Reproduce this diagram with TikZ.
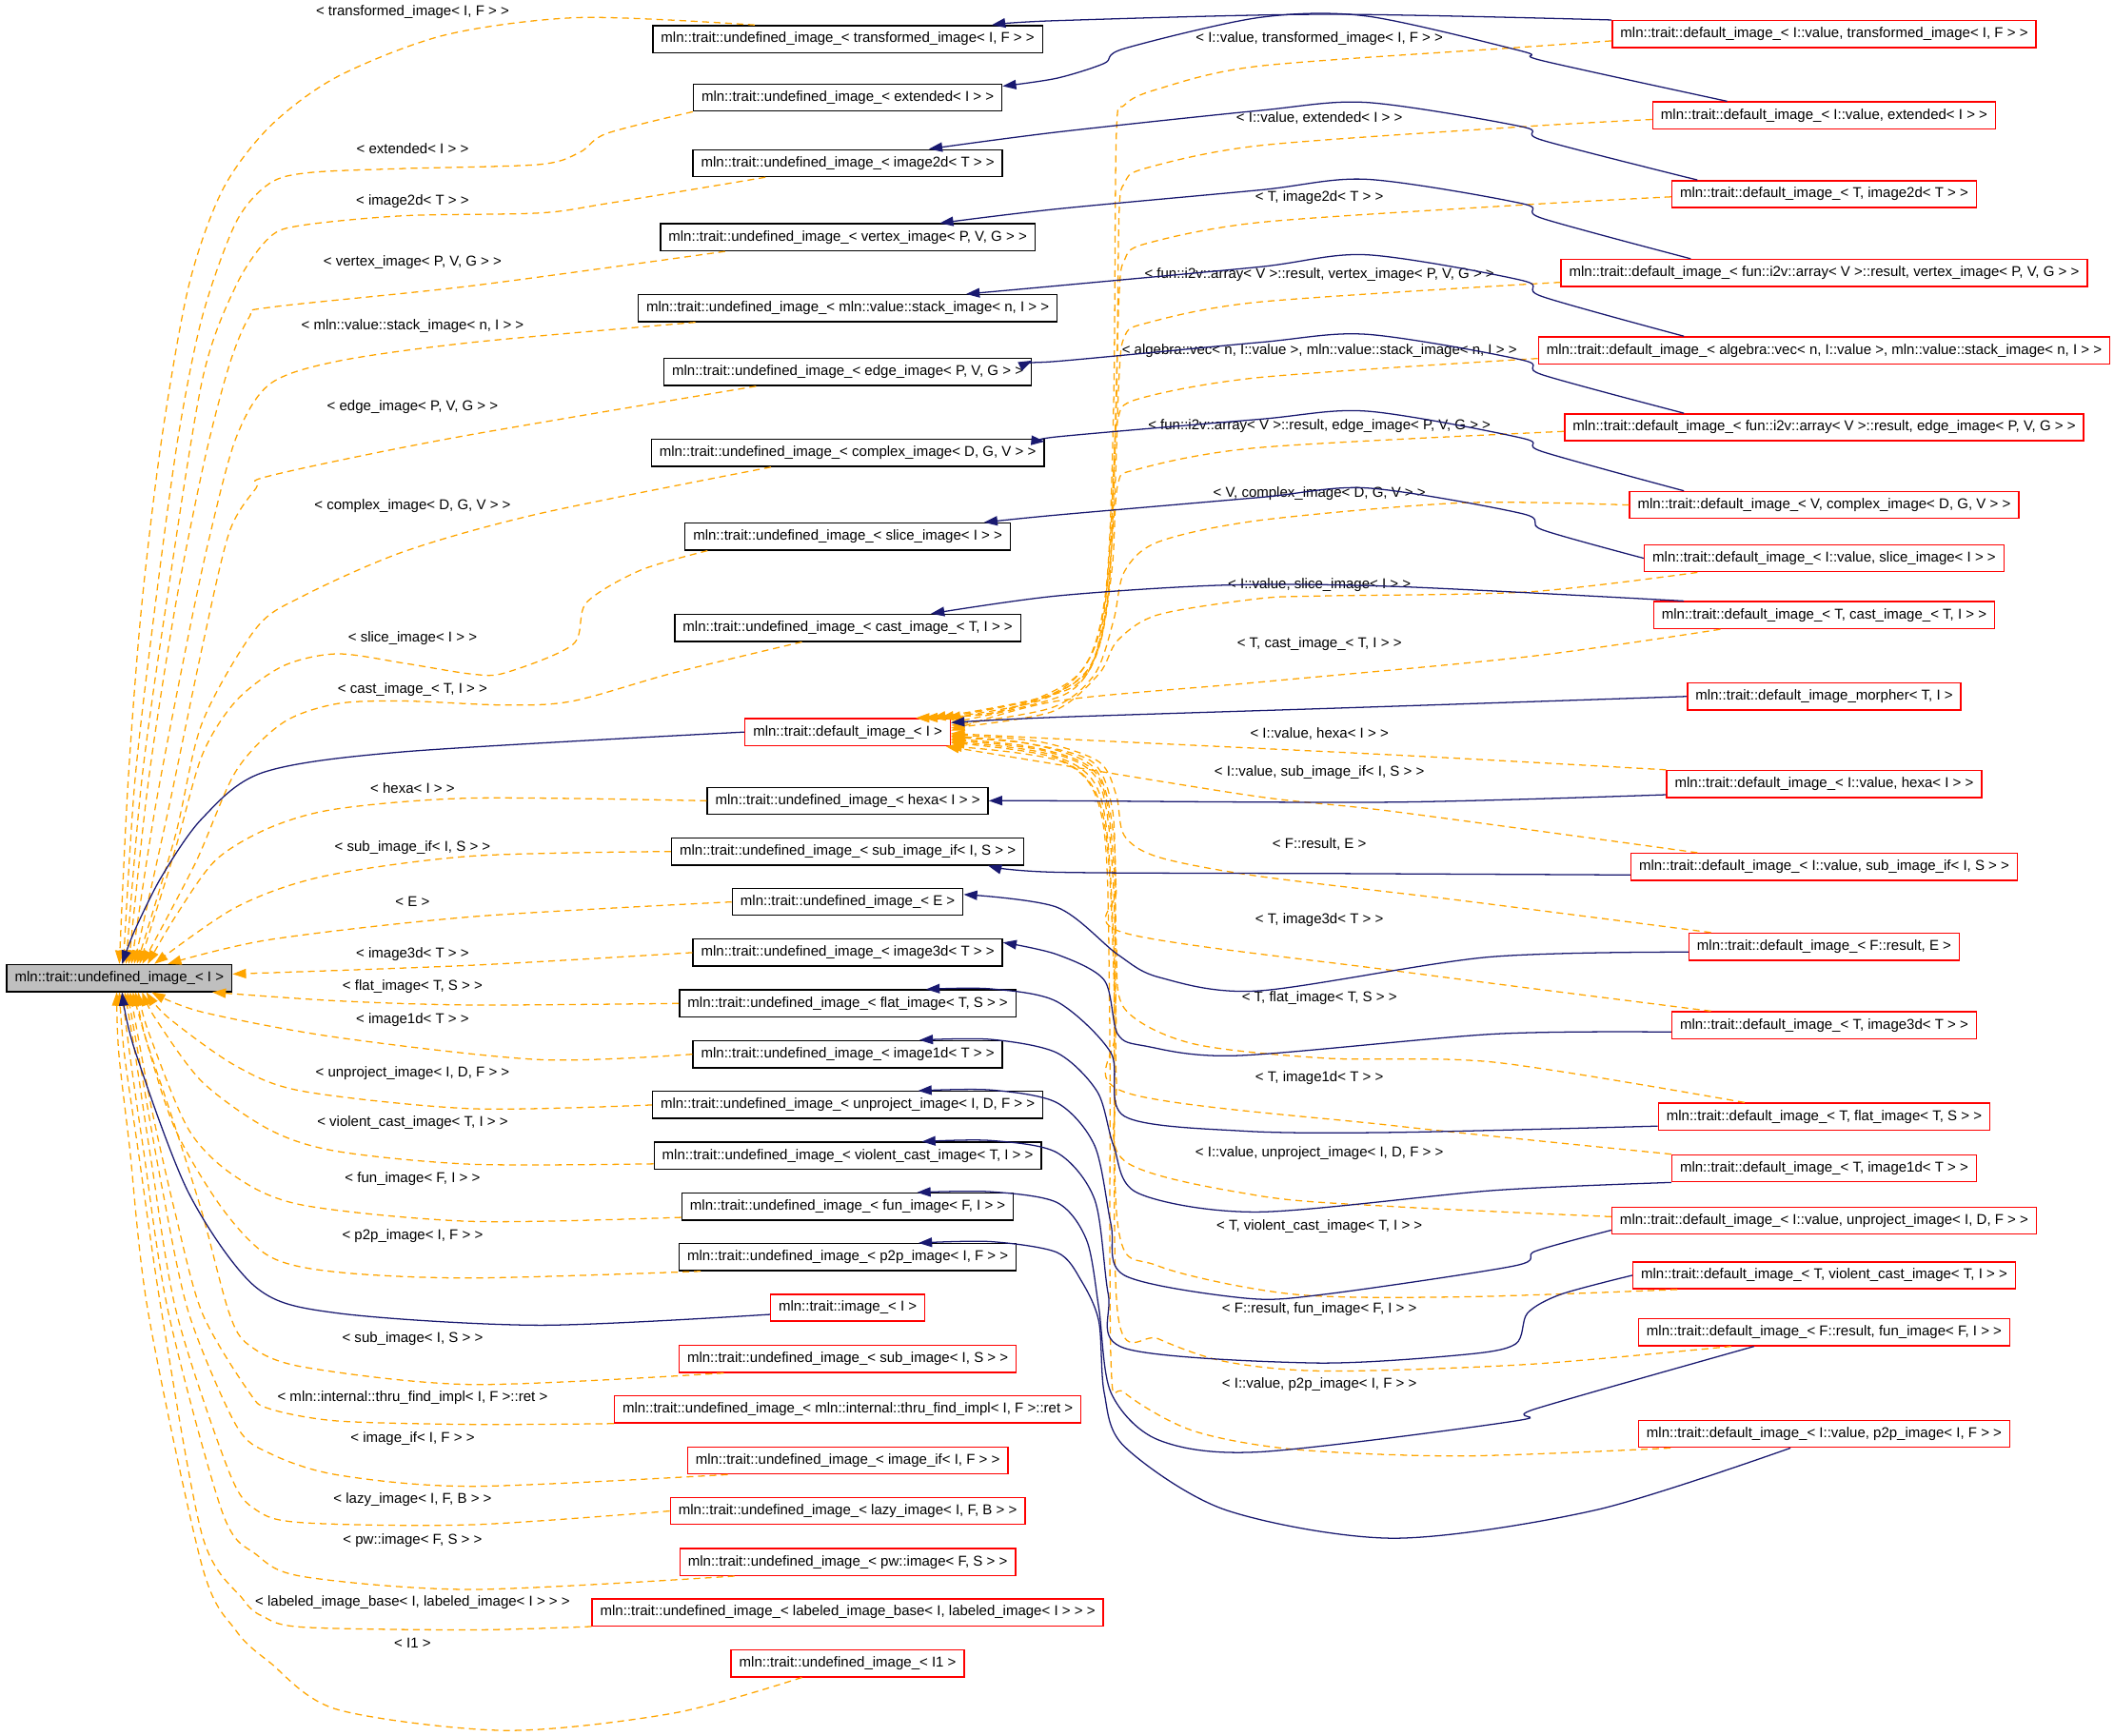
\documentclass[tikz,border=0pt]{standalone}
\usepackage{fontspec}
\setmainfont{Liberation Sans}
\usetikzlibrary{arrows.meta}

\definecolor{dxorange}{HTML}{FFA500}
\definecolor{dxnavy}{HTML}{191970}
\definecolor{dxgray}{HTML}{BFBFBF}

\tikzset{
  every node/.style={font=\fontsize{10.6pt}{12pt}\selectfont},
  blackcls/.style={draw=black,line width=1pt,fill=white,minimum height=20pt,inner xsep=6pt,inner ysep=0pt},
  redcls/.style={blackcls,draw=red},
  focusbox/.style={blackcls,fill=dxgray},
  lbl/.style={inner sep=1pt},
  inst/.style={draw=dxorange,line width=0.9pt,dash pattern=on 5pt off 3.5pt,-{Triangle[length=10pt,width=7pt]}},
  inher/.style={draw=dxnavy,line width=0.9pt,-{Triangle[length=10pt,width=7pt]}},
}

\begin{document}
\begin{tikzpicture}[x=1pt,y=-1pt]
  \useasboundingbox (0,0) rectangle (1568,1287.7);

  % the class itself
  \node[focusbox] (base) at (88.5,725.5) {mln::trait::undefined\_image\_< I >};

  % middle column
  \node[blackcls] (utrans)   at (628.75,29)    {mln::trait::undefined\_image\_< transformed\_image< I, F > >};
  \node[blackcls] (uext)     at (628.75,72.4)  {mln::trait::undefined\_image\_< extended< I > >};
  \node[blackcls] (u2d)      at (628.75,121)   {mln::trait::undefined\_image\_< image2d< T > >};
  \node[blackcls] (uvertex)  at (628.75,176)   {mln::trait::undefined\_image\_< vertex\_image< P, V, G > >};
  \node[blackcls] (ustack)   at (628.75,228.6) {mln::trait::undefined\_image\_< mln::value::stack\_image< n, I > >};
  \node[blackcls] (uedge)    at (628.75,276)   {mln::trait::undefined\_image\_< edge\_image< P, V, G > >};
  \node[blackcls] (ucomplex) at (628.75,336)   {mln::trait::undefined\_image\_< complex\_image< D, G, V > >};
  \node[blackcls] (uslice)   at (628.75,398)   {mln::trait::undefined\_image\_< slice\_image< I > >};
  \node[blackcls] (ucast)    at (628.75,465.7) {mln::trait::undefined\_image\_< cast\_image\_< T, I > >};
  \node[redcls]   (dimg)     at (628.75,543)   {mln::trait::default\_image\_< I >};
  \node[blackcls] (uhexa)    at (628.75,594)   {mln::trait::undefined\_image\_< hexa< I > >};
  \node[blackcls] (usubif)   at (628.75,631.6) {mln::trait::undefined\_image\_< sub\_image\_if< I, S > >};
  \node[blackcls] (uE)       at (628.75,669)   {mln::trait::undefined\_image\_< E >};
  \node[blackcls] (u3d)      at (628.75,706.6) {mln::trait::undefined\_image\_< image3d< T > >};
  \node[blackcls] (uflat)    at (628.75,744.3) {mln::trait::undefined\_image\_< flat\_image< T, S > >};
  \node[blackcls] (u1d)      at (628.75,782)   {mln::trait::undefined\_image\_< image1d< T > >};
  \node[blackcls] (uunproj)  at (628.75,819.6) {mln::trait::undefined\_image\_< unproject\_image< I, D, F > >};
  \node[blackcls] (uviolent) at (628.75,857.3) {mln::trait::undefined\_image\_< violent\_cast\_image< T, I > >};
  \node[blackcls] (ufun)     at (628.75,895)   {mln::trait::undefined\_image\_< fun\_image< F, I > >};
  \node[blackcls] (up2p)     at (628.75,932.5) {mln::trait::undefined\_image\_< p2p\_image< I, F > >};
  \node[redcls]   (imgI)     at (628.75,970)   {mln::trait::image\_< I >};
  \node[redcls]   (usub)     at (628.75,1008)  {mln::trait::undefined\_image\_< sub\_image< I, S > >};
  \node[redcls]   (uthru)    at (628.75,1045.5){mln::trait::undefined\_image\_< mln::internal::thru\_find\_impl< I, F >::ret >};
  \node[redcls]   (uimgif)   at (628.75,1083.3){mln::trait::undefined\_image\_< image\_if< I, F > >};
  \node[redcls]   (ulazy)    at (628.75,1120.8){mln::trait::undefined\_image\_< lazy\_image< I, F, B > >};
  \node[redcls]   (upw)      at (628.75,1158.6){mln::trait::undefined\_image\_< pw::image< F, S > >};
  \node[redcls]   (ulabeled) at (628.75,1196)  {mln::trait::undefined\_image\_< labeled\_image\_base< I, labeled\_image< I > > >};
  \node[redcls]   (uI1)      at (628.75,1233.8){mln::trait::undefined\_image\_< I1 >};

  % right column
  \node[redcls] (dtrans)   at (1353,25.3)   {mln::trait::default\_image\_< I::value, transformed\_image< I, F > >};
  \node[redcls] (dext)     at (1353,85.6)   {mln::trait::default\_image\_< I::value, extended< I > >};
  \node[redcls] (d2d)      at (1353,144)    {mln::trait::default\_image\_< T, image2d< T > >};
  \node[redcls] (dvertex)  at (1353,202.4)  {mln::trait::default\_image\_< fun::i2v::array< V >::result, vertex\_image< P, V, G > >};
  \node[redcls] (dstack)   at (1353,259.9)  {mln::trait::default\_image\_< algebra::vec< n, I::value >, mln::value::stack\_image< n, I > >};
  \node[redcls] (dedge)    at (1353,317)    {mln::trait::default\_image\_< fun::i2v::array< V >::result, edge\_image< P, V, G > >};
  \node[redcls] (dcomplex) at (1353,374.6)  {mln::trait::default\_image\_< V, complex\_image< D, G, V > >};
  \node[redcls] (dslice)   at (1353,414.1)  {mln::trait::default\_image\_< I::value, slice\_image< I > >};
  \node[redcls] (dcast)    at (1353,456.3)  {mln::trait::default\_image\_< T, cast\_image\_< T, I > >};
  \node[redcls] (dmorph)   at (1353,516.6)  {mln::trait::default\_image\_morpher< T, I >};
  \node[redcls] (dhexa)    at (1353,581.5)  {mln::trait::default\_image\_< I::value, hexa< I > >};
  \node[redcls] (dsubif)   at (1353,643)    {mln::trait::default\_image\_< I::value, sub\_image\_if< I, S > >};
  \node[redcls] (dE)       at (1353,702.2)  {mln::trait::default\_image\_< F::result, E >};
  \node[redcls] (d3d)      at (1353,760.5)  {mln::trait::default\_image\_< T, image3d< T > >};
  \node[redcls] (dflat)    at (1353,828.3)  {mln::trait::default\_image\_< T, flat\_image< T, S > >};
  \node[redcls] (d1d)      at (1353,866.6)  {mln::trait::default\_image\_< T, image1d< T > >};
  \node[redcls] (dunproj)  at (1353,905.5)  {mln::trait::default\_image\_< I::value, unproject\_image< I, D, F > >};
  \node[redcls] (dviolent) at (1353,946)    {mln::trait::default\_image\_< T, violent\_cast\_image< T, I > >};
  \node[redcls] (dfun)     at (1353,988.2)  {mln::trait::default\_image\_< F::result, fun\_image< F, I > >};
  \node[redcls] (dp2p)     at (1353,1063.6) {mln::trait::default\_image\_< I::value, p2p\_image< I, F > >};

  % labels of the instantiations of the class
  \node[lbl] (ltrans)   at (306,8.7)    {< transformed\_image< I, F > >};
  \node[lbl] (lext)     at (306,110)    {< extended< I > >};
  \node[lbl] (l2d)      at (306,149.4)  {< image2d< T > >};
  \node[lbl] (lvertex)  at (306,194.6)  {< vertex\_image< P, V, G > >};
  \node[lbl] (lstack)   at (306,241.9)  {< mln::value::stack\_image< n, I > >};
  \node[lbl] (ledge)    at (306,301.9)  {< edge\_image< P, V, G > >};
  \node[lbl] (lcomplex) at (306,375.3)  {< complex\_image< D, G, V > >};
  \node[lbl] (lslice)   at (306,473.4)  {< slice\_image< I > >};
  \node[lbl] (lcast)    at (306,511.8)  {< cast\_image\_< T, I > >};
  \node[lbl] (lhexa)    at (306,584.7)  {< hexa< I > >};
  \node[lbl] (lsubif)   at (306,628.7)  {< sub\_image\_if< I, S > >};
  \node[lbl] (lE)       at (306,668.8)  {< E >};
  \node[lbl] (l3d)      at (306,707.9)  {< image3d< T > >};
  \node[lbl] (lflat)    at (306,731.9)  {< flat\_image< T, S > >};
  \node[lbl] (l1d)      at (306,756.6)  {< image1d< T > >};
  \node[lbl] (lunproj)  at (306,796.1)  {< unproject\_image< I, D, F > >};
  \node[lbl] (lviolent) at (306,832.6)  {< violent\_cast\_image< T, I > >};
  \node[lbl] (lfun)     at (306,874.2)  {< fun\_image< F, I > >};
  \node[lbl] (lp2p)     at (306,917)    {< p2p\_image< I, F > >};
  \node[lbl] (lsub)     at (306,993)    {< sub\_image< I, S > >};
  \node[lbl] (lthru)    at (306,1036.8) {< mln::internal::thru\_find\_impl< I, F >::ret >};
  \node[lbl] (limgif)   at (306,1067.1) {< image\_if< I, F > >};
  \node[lbl] (llazy)    at (306,1112.3) {< lazy\_image< I, F, B > >};
  \node[lbl] (lpw)      at (306,1142.7) {< pw::image< F, S > >};
  \node[lbl] (llabeled) at (306,1188.6) {< labeled\_image\_base< I, labeled\_image< I > > >};
  \node[lbl] (lI1)      at (306,1218.9) {< I1 >};

  % labels of the instantiations of default_image_
  \node[lbl] (mtrans)   at (978.6,28.7)   {< I::value, transformed\_image< I, F > >};
  \node[lbl] (mext)     at (978.6,87.8)   {< I::value, extended< I > >};
  \node[lbl] (m2d)      at (978.6,146.4)  {< T, image2d< T > >};
  \node[lbl] (mvertex)  at (978.6,203.5)  {< fun::i2v::array< V >::result, vertex\_image< P, V, G > >};
  \node[lbl] (mstack)   at (978.6,260)    {< algebra::vec< n, I::value >, mln::value::stack\_image< n, I > >};
  \node[lbl] (medge)    at (978.6,315.8)  {< fun::i2v::array< V >::result, edge\_image< P, V, G > >};
  \node[lbl] (mcomplex) at (978.6,366)    {< V, complex\_image< D, G, V > >};
  \node[lbl] (mslice)   at (978.6,433.6)  {< I::value, slice\_image< I > >};
  \node[lbl] (mcast)    at (978.6,477.6)  {< T, cast\_image\_< T, I > >};
  \node[lbl] (mhexa)    at (978.6,544)    {< I::value, hexa< I > >};
  \node[lbl] (msubif)   at (978.6,573)    {< I::value, sub\_image\_if< I, S > >};
  \node[lbl] (mE)       at (978.6,625.9)  {< F::result, E >};
  \node[lbl] (m3d)      at (978.6,682.4)  {< T, image3d< T > >};
  \node[lbl] (mflat)    at (978.6,740.1)  {< T, flat\_image< T, S > >};
  \node[lbl] (m1d)      at (978.6,799.6)  {< T, image1d< T > >};
  \node[lbl] (munproj)  at (978.6,855.4)  {< I::value, unproject\_image< I, D, F > >};
  \node[lbl] (mviolent) at (978.6,909.7)  {< T, violent\_cast\_image< T, I > >};
  \node[lbl] (mfun)     at (978.6,971.4)  {< F::result, fun\_image< F, I > >};
  \node[lbl] (mp2p)     at (978.6,1026.9) {< I::value, p2p\_image< I, F > >};

  % instantiations -> undefined_image_< I >
  \draw[inst] plot[smooth] coordinates {([xshift=-69pt]utrans.north) (430,13) (330,26) (250,57) (200,94) (165,141) (140,212) (120,325) (105,450) (95,580) ([xshift=84pt]base.north west)};
  \draw[inst] plot[smooth] coordinates {(uext.south west) (450,99) (430,113) (400,122) (300,125) (230,128) (200,136) (175,165) (150,235) (132,325) (115,450) (100,580) ([xshift=87pt]base.north west)};
  \draw[inst] plot[smooth] coordinates {([xshift=-61pt]u2d.south) (450,151) (400,158) (300,160) (225,167) (200,176) (175,212) (150,282) (123,450) (105,580) ([xshift=89pt]base.north west)};
  \draw[inst] plot[smooth] coordinates {([xshift=-91pt]uvertex.south) (350,212) (200,228) (185,235) (170,271) (152,340) (130,450) (110,580) ([xshift=91pt]base.north west)};
  \draw[inst] plot[smooth] coordinates {([xshift=-113pt]ustack.south) (350,254) (250,268) (200,285) (175,325) (155,400) (138,480) (115,600) ([xshift=93pt]base.north west)};
  \draw[inst] plot[smooth] coordinates {([xshift=-68pt]uedge.south) (335,325) (200,353) (190,362) (170,395) (150,480) (125,600) ([xshift=95pt]base.north west)};
  \draw[inst] plot[smooth] coordinates {([xshift=-57pt]ucomplex.south) (400,381) (300,409) (225,442) (190,466) (150,536) (130,620) ([xshift=97pt]base.north west)};
  \draw[inst] plot[smooth] coordinates {([xshift=-104pt]uslice.south) (475,423) (435,447) (425,478) (375,499) (350,500) (300,492) (250,485) (210,494) (175,520) (150,560) (130,630) ([xshift=99pt]base.north west)};
  \draw[inst] plot[smooth] coordinates {([xshift=-34pt]ucast.south) (500,499) (425,520) (375,523) (300,520) (250,522) (210,536) (175,572) (145,640) ([xshift=101pt]base.north west)};
  \draw[inst] plot[smooth] coordinates {(uhexa.west) (350,592) (250,600) (200,614) (160,638) (130,680) ([xshift=105pt]base.north west)};
  \draw[inst] plot[smooth] coordinates {(usubif.west) (350,635) (240,650) (175,673) ([xshift=110pt]base.north west)};
  \draw[inst] plot[smooth] coordinates {(uE.west) (350,680) (200,697) ([xshift=120pt]base.north west)};
  \draw[inst] plot[smooth] coordinates {(u3d.west) (350,716) ([yshift=3pt]base.east)};
  \draw[inst] plot[smooth] coordinates {(uflat.west) (350,745.5) (250,742.4) ([xshift=153pt]base.south west)};
  \draw[inst] plot[smooth] coordinates {(u1d.west) (400,786) (250,769.5) (150,750.7) ([xshift=108pt]base.south west)};
  \draw[inst] plot[smooth] coordinates {(uunproj.west) (350,822.4) (225,809.5) (175,790.7) (125,755) ([xshift=104pt]base.south west)};
  \draw[inst] plot[smooth] coordinates {([yshift=-6pt]uviolent.west) (350,863.6) (250,854) (200,838) (150,802.5) (115,755) ([xshift=101pt]base.south west)};
  \draw[inst] plot[smooth] coordinates {([yshift=-8pt]ufun.west) (350,906) (225,894) (175,873) (140,838) (110,765) ([xshift=98pt]base.south west)};
  \draw[inst] plot[smooth] coordinates {([xshift=-109pt]up2p.south) (350,948) (250,943.6) (200,932) (165,896.6) (130,837.7) (108,770) ([xshift=96pt]base.south west)};
  \draw[inst] plot[smooth] coordinates {([xshift=-92pt]usub.south) (350,1027) (225,1014) (185,998) (170,974) (150,900) (128,830) (108,770) ([xshift=94pt]base.south west)};
  \draw[inst] plot[smooth] coordinates {(uthru.south west) (350,1056.6) (250,1054) (200,1045) (185,1033) (150,974) (130,900) (112,820) ([xshift=92pt]base.south west)};
  \draw[inst] plot[smooth] coordinates {([xshift=-89pt]uimgif.south) (350,1102.5) (250,1094) (200,1078) (175,1057) (140,974) (120,880) (104,790) ([xshift=90pt]base.south west)};
  \draw[inst] plot[smooth] coordinates {(ulazy.west) (350,1131) (225,1129.5) (190,1120) (170,1092) (131,974) (112,860) (100,780) ([xshift=88pt]base.south west)};
  \draw[inst] plot[smooth] coordinates {([xshift=-84pt]upw.south) (350,1179) (225,1169.5) (190,1153) (165,1122) (125,974) (106,850) (96,780) ([xshift=86pt]base.south west)};
  \draw[inst] plot[smooth] coordinates {(ulabeled.south west) (350,1209) (225,1207) (195,1199) (180,1186) (150,1139) (120,974) (102,850) (92,780) ([xshift=84pt]base.south west)};
  \draw[inst] plot[smooth] coordinates {([xshift=-34pt]uI1.south) (500,1270.7) (375,1283.6) (250,1268) (200,1233) (175,1209.5) (150,1162) (110,974) (96,850) (88,780) ([xshift=82pt]base.south west)};

  \draw[inher] plot[smooth] coordinates {(dimg.west) (300,557.6) (195,573) (150,607) (120,650) (100,690) ([xshift=86pt]base.north west)};
  \draw[inher] plot[smooth] coordinates {([yshift=-5pt]imgI.west) (400,983) (250,974) (190,955) (140,885) (100,779) ([xshift=86pt]base.south west)};

  % instantiations -> default_image_< I >
  \draw[inst] plot[smooth] coordinates {([yshift=-5pt]dtrans.west) (1129,35) (934,49) (859,66) (834,78) (828,100) (826,300) (820,440) (800,500) (740,528) ([xshift=-26pt]dimg.north east)};
  \draw[inst] plot[smooth] coordinates {([yshift=-3pt]dext.west) (1129,94) (934,108) (849,125) (834,136) (830,160) (828,300) (822,440) (805,500) (745,527) ([xshift=-20pt]dimg.north east)};
  \draw[inst] plot[smooth] coordinates {([yshift=-2pt]d2d.west) (1129,152) (934,165) (849,181) (834,193) (830,220) (826,350) (818,460) (795,510) ([xshift=-14pt]dimg.north east)};
  \draw[inst] plot[smooth] coordinates {([yshift=-7pt]dvertex.west) (934,224) (849,240) (834,250) (830,280) (825,400) (812,480) (780,515) ([xshift=-8pt]dimg.north east)};
  \draw[inst] plot[smooth] coordinates {([yshift=-6pt]dstack.west) (934,280) (844,296) (829,311) (826,350) (822,440) (808,495) (770,520) ([xshift=-3pt]dimg.north east)};
  \draw[inst] plot[smooth] coordinates {([yshift=-3pt]dedge.west) (934,332) (844,348) (829,360) (825,420) (815,480) (790,515) ([yshift=7pt]dimg.east)};
  \draw[inst] plot[smooth] coordinates {(dcomplex.west) (1084,373) (934,386) (859,402) (834,424) (826,460) (812,500) (780,525) ([yshift=5pt]dimg.east)};
  \draw[inst] plot[smooth] coordinates {([xshift=-94pt]dslice.south) (1134,439) (984,442) (934,444) (859,456) (829,475) (815,500) (780,528) ([yshift=3pt]dimg.east)};
  \draw[inst] plot[smooth] coordinates {([xshift=-77pt]dcast.south) (1134,487) (934,506) (784,520) ([yshift=1pt]dimg.east)};
  \draw[inst] plot[smooth] coordinates {(dhexa.north west) (1034,560) (784,548) ([yshift=-1pt]dimg.east)};
  \draw[inst] plot[smooth] coordinates {([xshift=-94pt]dsubif.north) (1034,602) (934,591) (784,567) ([xshift=-4pt]dimg.south east)};
  \draw[inst] plot[smooth] coordinates {([xshift=-84pt]dE.north) (1084,668) (934,650) (860,636) (834,620) (828,590) (815,565) (770,550) ([yshift=-2pt]dimg.east)};
  \draw[inst] plot[smooth] coordinates {([xshift=-84pt]d3d.north) (1034,720) (834,692) (828,660) (825,600) (810,565) (760,551) ([yshift=-3pt]dimg.east)};
  \draw[inst] plot[smooth] coordinates {([xshift=-59pt]dflat.north) (1109,788) (984,785) (884,774) (834,748) (828,700) (826,620) (812,570) (765,552) ([yshift=-4pt]dimg.east)};
  \draw[inst] plot[smooth] coordinates {(d1d.north west) (1034,835) (834,810) (828,760) (826,640) (814,575) (770,555) ([yshift=-5pt]dimg.east)};
  \draw[inst] plot[smooth] coordinates {([yshift=3pt]dunproj.west) (1034,895) (934,887) (834,861) (828,800) (826,660) (815,580) (775,557) ([yshift=-6pt]dimg.east)};
  \draw[inst] plot[smooth] coordinates {([xshift=-109pt]dviolent.south) (1084,962) (959,960) (859,939) (829,908) (826,700) (816,590) (780,560) ([yshift=-7pt]dimg.east)};
  \draw[inst] plot[smooth] coordinates {([xshift=-69pt]dfun.south) (1134,1012) (984,1017) (909,1010) (859,993) (829,974) (826,720) (817,600) (785,563) ([yshift=-8pt]dimg.east)};
  \draw[inst] plot[smooth] coordinates {([xshift=-114pt]dp2p.south) (1084,1080) (959,1075) (884,1061) (834,1033) (824,1010) (823,750) (818,610) (790,566) ([xshift=-2pt]dimg.south east)};

  % default_image_< ... > -> undefined_image_< ... >
  \draw[inher] plot[smooth] coordinates {(dtrans.north west) (984,10.6) (784,15.3) ([xshift=-38pt]utrans.north east)};
  \draw[inher] plot[smooth] coordinates {([xshift=-72pt]dext.north) (1144,45) (1129,38) (1014,12) (934,13) (834,36) (819,47) (784,58) ([yshift=-2pt]uext.north east)};
  \draw[inher] plot[smooth] coordinates {([xshift=-94pt]d2d.north) (1144,104) (1129,94) (1014,76) (934,82) (784,98) ([xshift=-55pt]u2d.north east)};
  \draw[inher] plot[smooth] coordinates {([xshift=-99pt]dvertex.north) (1144,162) (1129,151) (1014,133) (934,141) (784,155) ([xshift=-71pt]uvertex.north east)};
  \draw[inher] plot[smooth] coordinates {([xshift=-104pt]dstack.north) (1144,220) (1129,208) (1014,189) (934,198) (784,212) ([xshift=-68pt]ustack.north east)};
  \draw[inher] plot[smooth] coordinates {([xshift=-104pt]dedge.north) (1144,278) (1129,267) (1014,248) (934,254) (784,268) ([yshift=-2pt]uedge.north east)};
  \draw[inher] plot[smooth] coordinates {([xshift=-104pt]dcomplex.north) (1144,335) (1129,325) (1014,305) (934,311) (784,324) ([yshift=-2pt]ucomplex.north east)};
  \draw[inher] plot[smooth] coordinates {(dslice.west) (1144,393) (1129,381) (1014,362) (934,369) (784,382) ([xshift=-20pt]uslice.north east)};
  \draw[inher] plot[smooth] coordinates {([xshift=-104pt]dcast.north) (1034,435) (909,434) (784,442) ([xshift=-67pt]ucast.north east)};
  \draw[inher] plot[smooth] coordinates {(dmorph.west) (1000,525) (784,532) ([yshift=7pt]dimg.east)};
  \draw[inher] plot[smooth] coordinates {([yshift=-8pt]dhexa.west) (1034,595) (784,594) (uhexa.east)};
  \draw[inher] plot[smooth] coordinates {([yshift=-6pt]dsubif.west) (1000,648) (784,647) ([xshift=-27pt]usubif.south east)};
  \draw[inher] plot[smooth] coordinates {([yshift=-4pt]dE.west) (1103,710) (933,735) (860,725) (829,708) (784,673) ([yshift=-5pt]uE.north east)};
  \draw[inher] plot[smooth] coordinates {([yshift=-5pt]d3d.west) (1108,767) (918,783) (850,776) (829,767) (819,727) (784,708) ([yshift=-3pt]u3d.north east)};
  \draw[inher] plot[smooth] coordinates {([yshift=-7pt]dflat.west) (1033,840) (923,839) (834,828) (824,781) (784,743) (735,733.5) ([xshift=-67pt]uflat.north east)};
  \draw[inher] plot[smooth] coordinates {(d1d.south west) (1108,883) (933,899) (844,885) (826,850) (814,810) (784,781) (735,771) ([xshift=-62pt]u1d.north east)};
  \draw[inher] plot[smooth] coordinates {([yshift=-7pt]dunproj.west) (1139,928) (1123,939) (983,960) (924,963) (834,946) (824,908) (812,850) (784,818) (735,808.5) ([xshift=-93pt]uunproj.north east)};
  \draw[inher] plot[smooth] coordinates {(dviolent.west) (1158,960) (1133,974) (1124,997) (1084,1005) (974,1011) (834,1000) (822,960) (812,890) (784,855) (735,846) ([xshift=-89pt]uviolent.north east)};
  \draw[inher] plot[smooth] coordinates {([xshift=-52pt]dfun.south) (1139,1045) (1124,1054) (934,1077) (859,1068) (824,1033) (815,970) (806,920) (784,892) (735,884) ([xshift=-72pt]ufun.north east)};
  \draw[inher] plot[smooth] coordinates {([xshift=-25pt]dp2p.south) (1184,1120) (1034,1141) (909,1120) (834,1073) (819,1033) (815,980) (802,950) (784,929) (735,921) ([xshift=-73pt]up2p.north east)};

\end{tikzpicture}
\end{document}
